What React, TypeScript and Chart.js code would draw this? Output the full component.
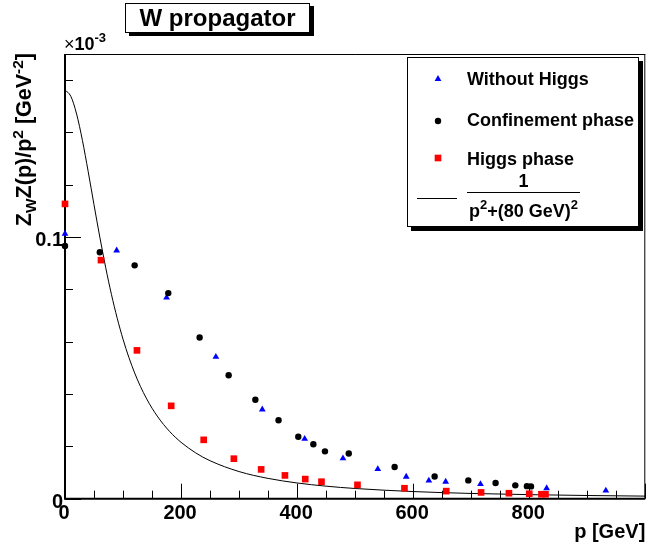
import React, { useEffect, useRef } from "react";
import { Chart, registerables } from "chart.js";

Chart.register(...registerables);

// ---- data (y values in units of 1e-3 GeV^-2) ----
const withoutHiggsP = [0, 89, 175, 260, 340, 413, 479, 539, 588, 627, 656, 716, 830, 932];
const withoutHiggsV = [0.1013, 0.0949, 0.0769, 0.0542, 0.0341, 0.0229, 0.0154, 0.0113, 0.0084, 0.0069, 0.0065, 0.0056, 0.004, 0.0031];

const confinementP = [0, 60, 120, 178, 232, 282, 328, 368, 402, 428, 448, 489, 568, 637, 695, 742, 776, 796, 803];
const confinementV = [0.0966, 0.0942, 0.0892, 0.0786, 0.0616, 0.0472, 0.0378, 0.03, 0.0237, 0.0208, 0.0181, 0.0173, 0.0121, 0.0085, 0.007, 0.006, 0.0051, 0.0048, 0.0047];

const higgsP = [0, 62, 124, 183, 239, 291, 338, 379, 414, 442, 504, 585, 657, 717, 765, 800, 821, 828];
const higgsV = [0.1127, 0.0912, 0.0567, 0.0355, 0.0225, 0.0153, 0.0112, 0.0089, 0.0075, 0.0065, 0.0053, 0.004, 0.0029, 0.0024, 0.0021, 0.0019, 0.0017, 0.0017];

// curve 1/(p^2 + (80 GeV)^2), tabulated
const curveP = [0, 10, 20, 30, 40, 50, 60, 70, 80, 90, 100, 110, 120, 130, 140, 150, 160, 170, 180, 190, 200, 225, 250, 300, 350, 400, 450, 500, 600, 700, 800, 900, 1000];
const curveV = [0.15625, 0.15385, 0.14706, 0.13699, 0.125, 0.11236, 0.1, 0.0885, 0.078125, 0.06897, 0.06098, 0.05405, 0.04808, 0.04292, 0.03846, 0.0346, 0.03125, 0.02833, 0.02577, 0.02353, 0.02155, 0.01754, 0.01451, 0.01037, 0.00776, 0.00601, 0.00479, 0.0039, 0.00273, 0.00201, 0.00155, 0.00122, 0.00099];

const xMajorTicks = [0, 200, 400, 600, 800, 1000];
const xTickLabels = ["0", "200", "400", "600", "800", ""];
const yMajorTicks = [0, 0.1];
const yTickLabels = ["0", "0.1"];

const legendLabels = ["Without Higgs", "Confinement phase", "Higgs phase"];
const titleText = "W propagator";

const FAM = '"Liberation Sans", Arial, Helvetica, sans-serif';
const f = (size: number, bold = true) => `${bold ? "bold " : ""}${size}px ${FAM}`;

type Seg = { t: string; s: number; dy: number; b?: boolean };
function richWidth(ctx: CanvasRenderingContext2D, segs: Seg[]) {
  let w = 0;
  for (const s of segs) {
    ctx.font = f(s.s, s.b !== false);
    w += ctx.measureText(s.t).width;
  }
  return w;
}
function drawRich(ctx: CanvasRenderingContext2D, segs: Seg[], x: number, y: number) {
  let cx = x;
  ctx.textAlign = "left";
  ctx.textBaseline = "alphabetic";
  for (const s of segs) {
    ctx.font = f(s.s, s.b !== false);
    ctx.fillText(s.t, cx, y + s.dy);
    cx += ctx.measureText(s.t).width;
  }
}

function marker(ctx: CanvasRenderingContext2D, kind: string, x: number, y: number, r: number, color: string) {
  ctx.fillStyle = color;
  ctx.beginPath();
  if (kind === "triangle") {
    let rad = 0;
    ctx.moveTo(x + Math.sin(rad) * r, y - Math.cos(rad) * r);
    rad += (2 * Math.PI) / 3;
    ctx.lineTo(x + Math.sin(rad) * r, y - Math.cos(rad) * r);
    rad += (2 * Math.PI) / 3;
    ctx.lineTo(x + Math.sin(rad) * r, y - Math.cos(rad) * r);
    ctx.closePath();
  } else if (kind === "circle") {
    ctx.arc(x, y, r, 0, Math.PI * 2);
  } else {
    const s = Math.SQRT1_2 * r;
    ctx.rect(x - s, y - s, 2 * s, 2 * s);
  }
  ctx.fill();
}

const rootPlugin = {
  id: "rootStyle",
  beforeDatasetsDraw(chart: any) {
    const ctx: CanvasRenderingContext2D = chart.ctx;
    const { left, right, top, bottom } = chart.chartArea;
    const xs = chart.scales.x;
    const ys = chart.scales.y;
    ctx.save();
    ctx.strokeStyle = "#000";
    ctx.lineWidth = 1;
    ctx.beginPath();
    ctx.moveTo(left, top + 0.5);
    ctx.lineTo(right, top + 0.5);
    ctx.moveTo(right - 0.5, top);
    ctx.lineTo(right - 0.5, bottom);
    ctx.stroke();
    ctx.lineWidth = 2;
    ctx.beginPath();
    ctx.moveTo(left, top);
    ctx.lineTo(left, bottom + 1);
    ctx.moveTo(left, bottom);
    ctx.lineTo(right, bottom);
    ctx.stroke();
    ctx.lineWidth = 1;
    ctx.beginPath();
    for (let v = 0; v <= 1000; v += 50) {
      const px = Math.round(xs.getPixelForValue(v)) + 0.5;
      const len = v % 200 === 0 ? 15 : 8;
      ctx.moveTo(px, bottom);
      ctx.lineTo(px, bottom - len);
    }
    for (let i = 0; i <= 8; i++) {
      const v = i * 0.02;
      const py = Math.round(ys.getPixelForValue(v)) + 0.5;
      const major = Math.abs(v - 0.1) < 1e-9 || i === 0;
      const len = major ? 16 : 8;
      ctx.moveTo(left, py);
      ctx.lineTo(left + len, py);
    }
    ctx.stroke();
    ctx.restore();
  },
  afterDraw(chart: any) {
    const ctx: CanvasRenderingContext2D = chart.ctx;
    const { left, right, top, bottom } = chart.chartArea;
    const xs = chart.scales.x;
    const ys = chart.scales.y;
    ctx.save();
    ctx.fillStyle = "#000";
    ctx.font = f(20);
    ctx.textAlign = "center";
    ctx.textBaseline = "alphabetic";
    xMajorTicks.forEach((v, i) => {
      if (!xTickLabels[i]) return;
      ctx.fillText(xTickLabels[i], xs.getPixelForValue(v) - 1, bottom + 20.5);
    });
    ctx.textAlign = "right";
    yMajorTicks.forEach((v, i) => {
      ctx.fillText(yTickLabels[i], left - 2, ys.getPixelForValue(v) + 9);
    });
    drawRich(ctx, [
      { t: "\u00d7", s: 18, dy: 0, b: false },
      { t: "10", s: 18, dy: 0 },
      { t: "-3", s: 13, dy: -8 },
    ], left - 1, 50);
    ctx.font = f(20);
    ctx.textAlign = "right";
    ctx.fillText("p [GeV]", right, 538);
    const ySegs: Seg[] = [
      { t: "Z", s: 21.5, dy: 0 },
      { t: "W", s: 15.5, dy: 5 },
      { t: "Z(p)/p", s: 21.5, dy: 0 },
      { t: "2", s: 15.5, dy: -8 },
      { t: " [GeV", s: 21.5, dy: 0 },
      { t: "-2", s: 15.5, dy: -8 },
      { t: "]", s: 21.5, dy: 0 },
    ];
    const yw = richWidth(ctx, ySegs);
    ctx.save();
    ctx.translate(31, top - 1);
    ctx.rotate(-Math.PI / 2);
    drawRich(ctx, ySegs, -yw, 0);
    ctx.restore();

    const tb = { x: 125, y: 3, w: 185, h: 30 };
    ctx.fillStyle = "#000";
    ctx.fillRect(tb.x + 4, tb.y + 3, tb.w, tb.h);
    ctx.fillStyle = "#fff";
    ctx.fillRect(tb.x, tb.y, tb.w, tb.h);
    ctx.strokeStyle = "#000";
    ctx.lineWidth = 1;
    ctx.strokeRect(tb.x + 0.5, tb.y + 0.5, tb.w - 1, tb.h - 1);
    ctx.fillStyle = "#000";
    ctx.font = f(24);
    ctx.textAlign = "center";
    ctx.fillText(titleText, tb.x + tb.w / 2, 26);

    const lb = { x: 407, y: 57, w: 232, h: 170 };
    ctx.fillStyle = "#000";
    ctx.fillRect(lb.x + 4, lb.y + 4, lb.w, lb.h);
    ctx.fillStyle = "#fff";
    ctx.fillRect(lb.x, lb.y, lb.w, lb.h);
    ctx.strokeRect(lb.x + 0.5, lb.y + 0.5, lb.w - 1, lb.h - 1);
    const kinds = ["triangle", "circle", "rect"];
    const colors = ["#0000ff", "#000000", "#ff0000"];
    const radii = [3.9, 3.2, 4.7];
    const my = [79, 121, 158];
    const base = [85, 126, 165];
    legendLabels.forEach((lab, i) => {
      marker(ctx, kinds[i], 438, my[i], radii[i], colors[i]);
      ctx.fillStyle = "#000";
      ctx.font = f(18);
      ctx.textAlign = "left";
      ctx.fillText(lab, 467, base[i]);
    });
    ctx.strokeStyle = "#000";
    ctx.lineWidth = 1;
    ctx.beginPath();
    ctx.moveTo(417, 198.5);
    ctx.lineTo(457, 198.5);
    ctx.moveTo(467, 192.5);
    ctx.lineTo(580, 192.5);
    ctx.stroke();
    ctx.font = f(18);
    ctx.textAlign = "center";
    ctx.fillText("1", 523.5, 187);
    const den: Seg[] = [
      { t: "p", s: 18, dy: 0 },
      { t: "2", s: 13, dy: -8 },
      { t: "+(80 GeV)", s: 18, dy: 0 },
      { t: "2", s: 13, dy: -8 },
    ];
    const dw = richWidth(ctx, den);
    drawRich(ctx, den, 523.5 - dw / 2, 216.5);
    ctx.restore();
  },
};

export default function App() {
  const ref = useRef<HTMLCanvasElement | null>(null);
  useEffect(() => {
    if (!ref.current) return;
    const pts = (P: number[], V: number[]) => P.map((p, i) => ({ x: p, y: V[i] }));
    const chart = new Chart(ref.current, {
      type: "scatter",
      data: {
        datasets: [
          {
            label: legendLabels[1],
            data: pts(confinementP, confinementV),
            pointStyle: "circle",
            pointRadius: 3.2,
            backgroundColor: "#000000",
            borderWidth: 0,
            clip: false,
          } as any,
          {
            label: legendLabels[0],
            data: pts(withoutHiggsP, withoutHiggsV),
            pointStyle: "triangle",
            pointRadius: 3.9,
            backgroundColor: "#0000ff",
            borderWidth: 0,
            clip: false,
          } as any,
          {
            label: legendLabels[2],
            data: pts(higgsP, higgsV),
            pointStyle: "rect",
            pointRadius: 4.7,
            backgroundColor: "#ff0000",
            borderWidth: 0,
            clip: false,
          } as any,
          {
            type: "line",
            label: "1/(p^2+(80 GeV)^2)",
            data: pts(curveP, curveV),
            borderColor: "#000000",
            borderWidth: 1,
            pointRadius: 0,
            cubicInterpolationMode: "monotone",
            fill: false,
          } as any,
        ],
      },
      options: {
        animation: false,
        responsive: false,
        devicePixelRatio: 1,
        events: [],
        layout: { padding: { left: 65, right: 3, top: 54, bottom: 55.3 } },
        scales: {
          x: { type: "linear", min: 0, max: 1000, display: false },
          y: { type: "linear", min: 0, max: 0.17, display: false },
        },
        plugins: { legend: { display: false }, tooltip: { enabled: false }, title: { display: false } },
      },
      plugins: [rootPlugin],
    } as any);
    return () => chart.destroy();
  }, []);
  return (
    <div style={{ position: "absolute", left: 0, top: 0, width: 650, height: 554, background: "#fff" }}>
      <canvas ref={ref} width={650} height={554} style={{ display: "block", width: 650, height: 554 }} />
    </div>
  );
}
